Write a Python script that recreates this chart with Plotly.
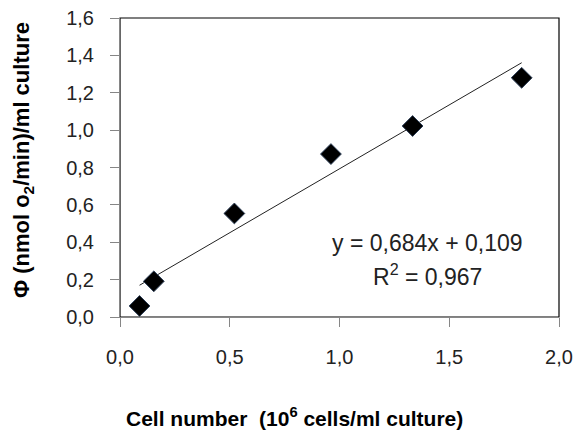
import numpy as np
import plotly.graph_objects as go

# Data
cell_number = [0.089, 0.154, 0.521, 0.961, 1.333, 1.830]
phi = [0.059, 0.191, 0.554, 0.872, 1.022, 1.280]
slope = 0.684
intercept = 0.109
r_squared = 0.967
x_ticks = [0.0, 0.5, 1.0, 1.5, 2.0]
x_tick_labels = ["0,0", "0,5", "1,0", "1,5", "2,0"]
y_ticks = [0.0, 0.2, 0.4, 0.6, 0.8, 1.0, 1.2, 1.4, 1.6]
y_tick_labels = ["0,0", "0,2", "0,4", "0,6", "0,8", "1,0", "1,2", "1,4", "1,6"]
x_title = "Cell number  (10<sup>6</sup> cells/ml culture)"
y_title = "Φ (nmol o<sub>2</sub>/min)/ml culture"

trend_x = [min(cell_number), max(cell_number)]
trend_y = [slope * v + intercept for v in trend_x]

FONT = "Liberation Sans"
W, H = 576, 432
ML, MR, MT, MB = 120, 17, 18, 115
PW, PH = W - ML - MR, H - MT - MB


def px_to_paper(px, py):
    return (px - ML) / PW, (H - MB - py) / PH


fig = go.Figure()
fig.add_trace(go.Scatter(x=trend_x, y=trend_y, mode="lines",
                         line=dict(color="#222222", width=1), showlegend=False))
fig.add_trace(go.Scatter(x=cell_number, y=phi, mode="markers",
                         marker=dict(symbol="diamond", size=16, color="black",
                                     line=dict(color="#2c3e57", width=1)),
                         showlegend=False))

eq_text = "y = " + f"{slope:.3f}".replace(".", ",") + "x + " + f"{intercept:.3f}".replace(".", ",")
r2_text = "R<sup>2</sup> = " + f"{r_squared:.3f}".replace(".", ",")
fig.add_annotation(x=1.400, y=0.395, xref="x", yref="y", text=eq_text, showarrow=False,
                   font=dict(family=FONT, size=23, color="#222222"))
fig.add_annotation(x=1.400, y=0.223, xref="x", yref="y", text=r2_text, showarrow=False,
                   font=dict(family=FONT, size=23, color="#222222"))

# Axis titles (placed as in the reference)
xt = px_to_paper(294, 417)
fig.add_annotation(x=xt[0], y=xt[1], xref="paper", yref="paper",
                   text=x_title, showarrow=False, xanchor="center", yanchor="middle",
                   font=dict(family=FONT, size=21, weight="bold", color="black"))
yt = px_to_paper(23, 160)
fig.add_annotation(x=yt[0], y=yt[1], xref="paper", yref="paper",
                   text=y_title, showarrow=False, xanchor="center", yanchor="middle",
                   textangle=-90,
                   font=dict(family=FONT, size=22, weight="bold", color="black"))

fig.add_shape(type="rect", xref="x domain", yref="y domain", x0=0, y0=0, x1=1, y1=1,
              line=dict(color="black", width=1.2), layer="below")

fig.update_layout(
    width=W, height=H,
    margin=dict(l=ML, r=MR, t=MT, b=MB),
    paper_bgcolor="white", plot_bgcolor="white",
    font=dict(family=FONT, color="#222222"),
    xaxis=dict(range=[0, 2.0], tickvals=x_ticks, ticktext=x_tick_labels, automargin=False,
               showgrid=False, zeroline=False, showline=True, linecolor="#868686",
               ticks="outside", ticklen=9, tickcolor="#868686",
               tickfont=dict(size=20), ticklabelstandoff=13),
    yaxis=dict(range=[0, 1.6], tickvals=y_ticks, ticktext=y_tick_labels, automargin=False,
               showgrid=False, zeroline=False, showline=True, linecolor="#868686",
               ticks="outside", ticklen=9, tickcolor="#868686",
               tickfont=dict(size=20), ticklabelstandoff=12),
)

fig.write_html("out.html")
